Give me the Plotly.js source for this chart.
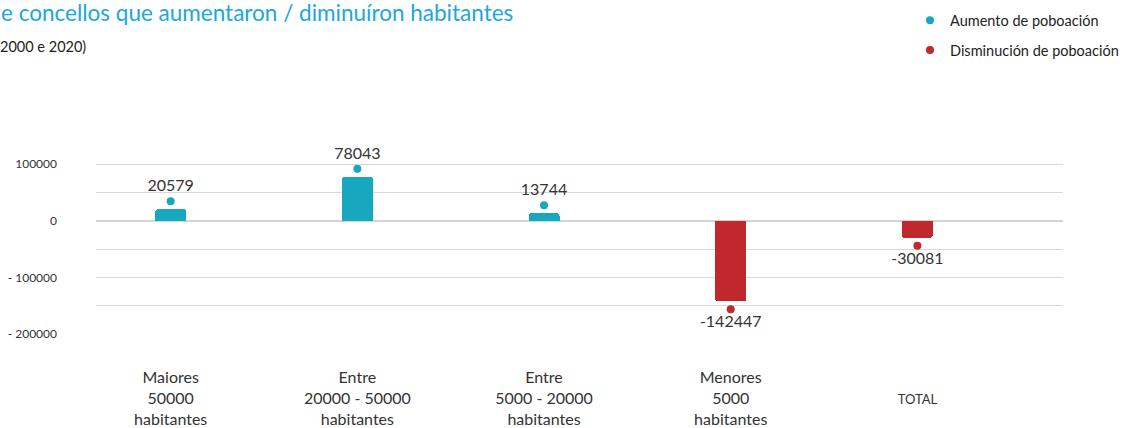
<!DOCTYPE html>
<html>
<head>
<meta charset="utf-8">
<script src="https://cdn.plot.ly/plotly-3.0.1.min.js"></script>
<style>
  body { margin: 0; background: #fff; }
  #chart { width: 1124px; height: 428px; }
</style>
</head>
<body>
<div id="chart"></div>
<script>
// categories (tick labels) and population change per group
let categories = ['Maiores<br>50000<br>habitantes', 'Entre<br>20000 - 50000<br>habitantes',
                  'Entre<br>5000 - 20000<br>habitantes', 'Menores<br>5000<br>habitantes',
                  ' <br><span style="font-size:13px">TOTAL</span>'];
let values = [20579, 78043, 13744, -142447, -30081];

// y axis ticks: gridline every 50000, label every 100000
let yTickVals = [100000, 50000, 0, -50000, -100000, -150000, -200000];
let yTickText = ['100000', '', '0', '', '- 100000', '', '- 200000'];

let teal = '#17a8bf';
let red = '#c0282d';
let dotGap = 14000; // distance of the dot from the bar end, in data units

// bar colours by sign
let barColors = values.map(v => v >= 0 ? teal : red);

// dot positions, split into increase / decrease
let upY = values.map(v => v >= 0 ? v + dotGap : null);
let downY = values.map(v => v < 0 ? v - dotGap : null);
let upText = values.map(v => v >= 0 ? String(v) : '');
let downText = values.map(v => v < 0 ? String(v) : '');

let bars = {
    x: categories,
    y: values,
    type: 'bar',
    width: 0.166,
    marker: {color: barColors, cornerradius: 3},
    showlegend: false,
    hoverinfo: 'skip'
};

let upDots = {
    x: categories,
    y: upY,
    type: 'scatter',
    mode: 'markers+text',
    text: upText,
    textposition: 'top center',
    textfont: {size: 16, color: '#333333'},
    marker: {color: teal, size: 8},
    showlegend: false,
    cliponaxis: false
};

let downDots = {
    x: categories,
    y: downY,
    type: 'scatter',
    mode: 'markers+text',
    text: downText,
    textposition: 'bottom center',
    textfont: {size: 16, color: '#333333'},
    marker: {color: red, size: 8},
    showlegend: false,
    cliponaxis: false
};

// legend-only entries
let legUp = {x: [null], y: [null], type: 'scatter', mode: 'markers',
    name: 'Aumento de poboación', marker: {color: teal, size: 8}, legendgroup: 'a'};
let legDown = {x: [null], y: [null], type: 'scatter', mode: 'markers',
    name: 'Disminución de poboación', marker: {color: red, size: 8}, legendgroup: 'b'};

let data = [bars, upDots, downDots, legUp, legDown];

let layout = {
    width: 1124,
    height: 428,
    margin: {l: 96, r: 61, t: 136, b: 94, autoexpand: false},
    paper_bgcolor: '#ffffff',
    plot_bgcolor: '#ffffff',
    font: {family: 'Lato, "Open Sans", sans-serif', color: '#333333'},
    title: {
        text: 'e concellos que aumentaron / diminuíron habitantes',
        font: {size: 22.5, color: '#1ba7df'},
        x: 0, xanchor: 'left', xref: 'container',
        y: 0.988, yanchor: 'top', yref: 'container',
        pad: {l: 1, t: 0}
    },
    annotations: [{
        text: '2000 e 2020)',
        xref: 'paper', yref: 'paper',
        x: -96 / 967, y: 1.45,
        xanchor: 'left', yanchor: 'middle',
        showarrow: false,
        xshift: -2,
        font: {size: 14.5, color: '#222222'}
    }],
    legend: {
        xref: 'container', yref: 'container',
        x: 1, xanchor: 'right', y: 0.99, yanchor: 'top',
        font: {size: 14.5, color: '#222222'},
        tracegroupgap: 8,
        bgcolor: 'rgba(0,0,0,0)'
    },
    xaxis: {
        type: 'category',
        range: [-0.4, 4.78],
        showgrid: false,
        zeroline: false,
        showline: false,
        ticks: '',
        tickfont: {size: 16, color: '#333333'},
        ticklabelstandoff: 32,
        fixedrange: true
    },
    yaxis: {
        range: [-200000, 150000],
        tickvals: yTickVals,
        ticktext: yTickText,
        tickfont: {size: 12, color: '#333333'},
        gridcolor: '#d9d9d9',
        gridwidth: 1,
        zeroline: true,
        zerolinecolor: '#d4d4d4',
        zerolinewidth: 2,
        showline: false,
        ticks: '',
        ticklabelstandoff: 38,
        fixedrange: true
    },
    bargap: 0
};

Plotly.newPlot('chart', data, layout, {displayModeBar: false, staticPlot: true});
</script>
</body>
</html>
